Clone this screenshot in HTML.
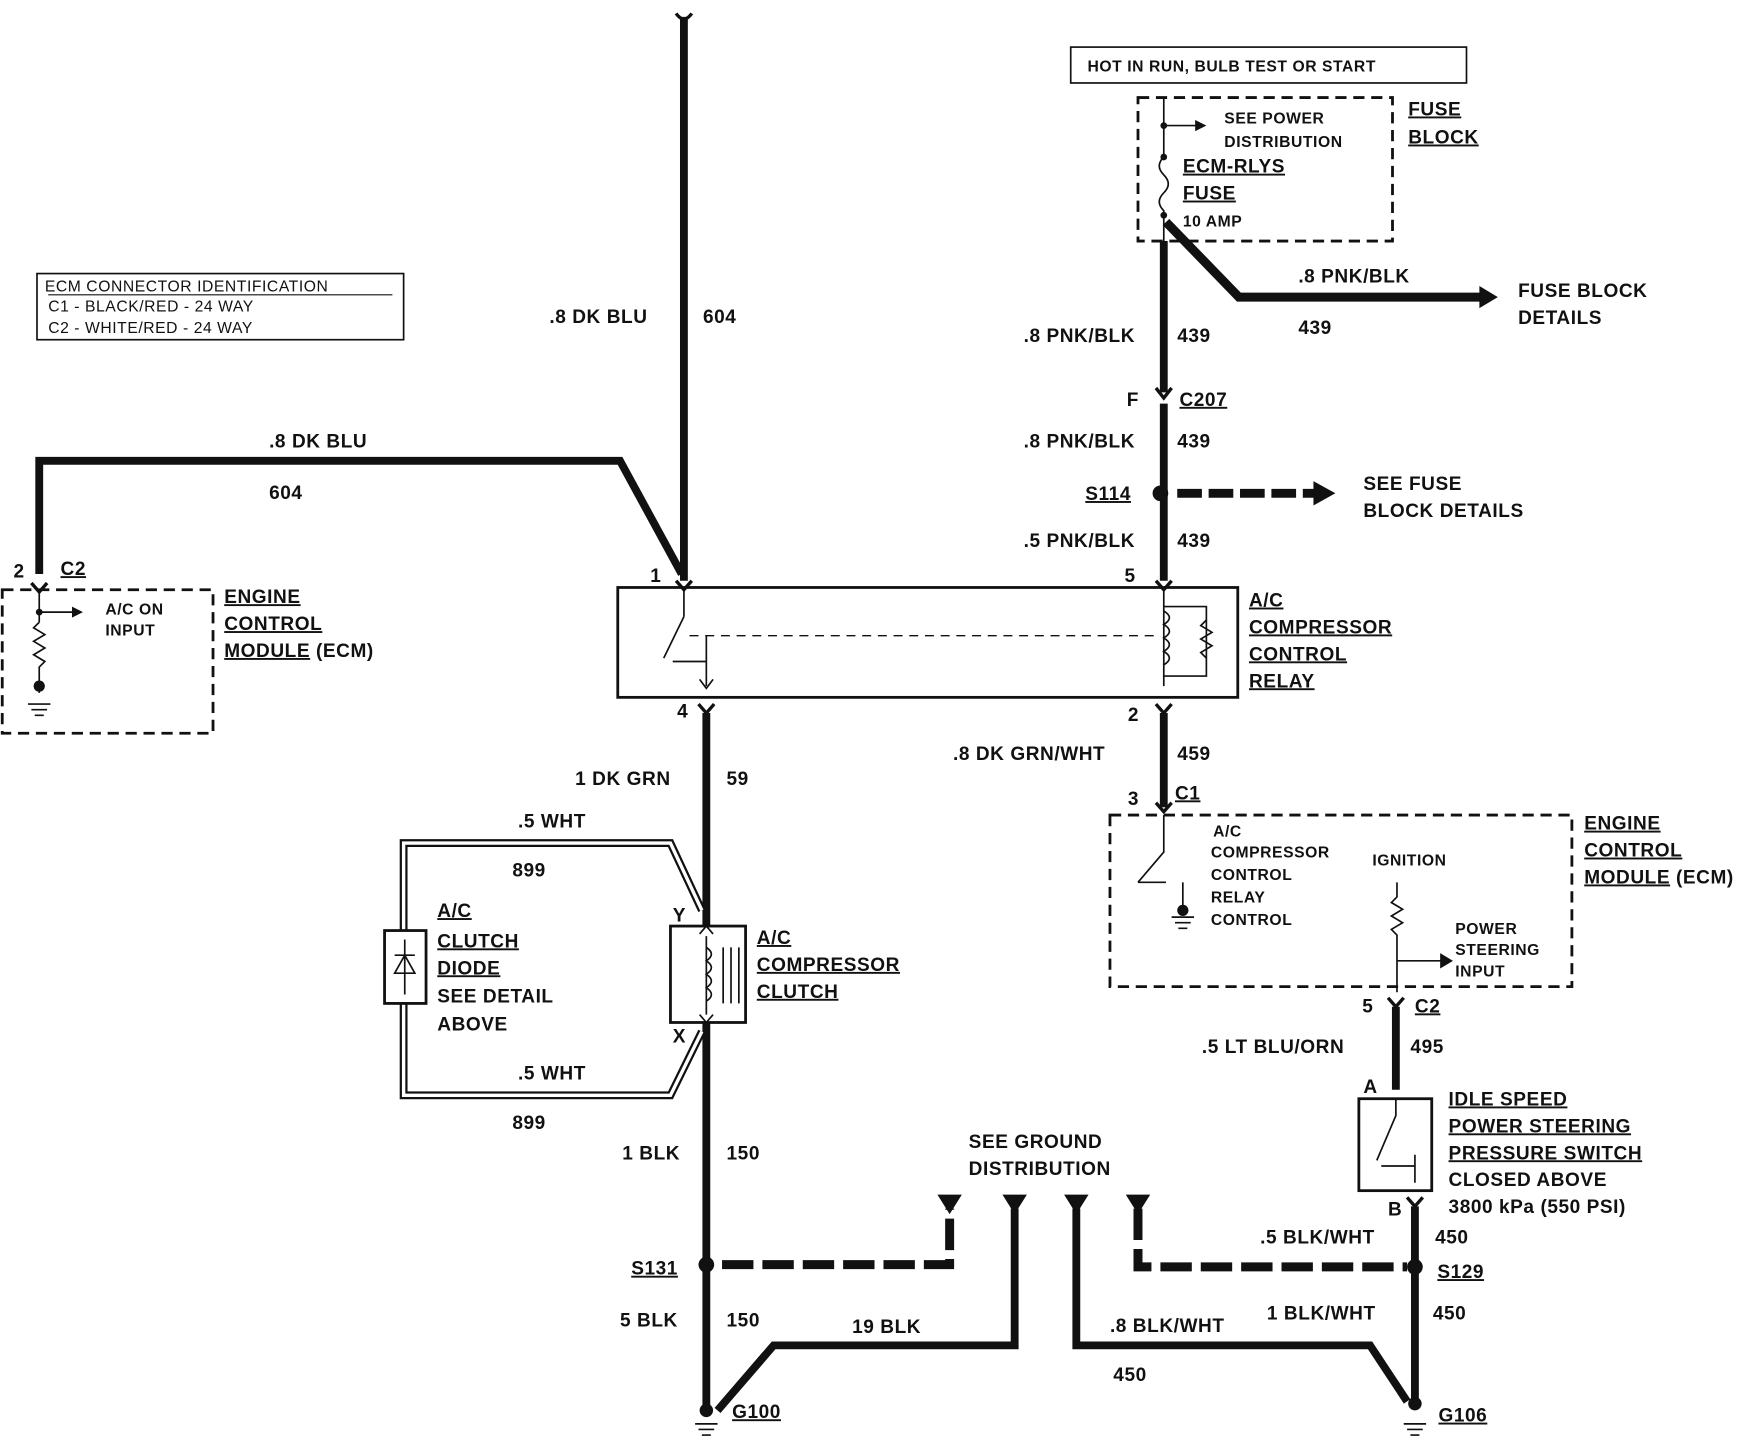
<!DOCTYPE html>
<html><head><meta charset="utf-8"><style>
html,body{margin:0;padding:0;background:#fff;}
svg{display:block;}
text{font-family:"Liberation Sans",Arial,sans-serif;font-weight:bold;font-size:17px;fill:#111;letter-spacing:0.5px;}
.s{font-size:14px;font-weight:normal;}
.u{text-decoration:underline;}
</style></head><body>
<svg width="1758" height="1440" viewBox="0 0 1568 1284.4" preserveAspectRatio="none" xmlns="http://www.w3.org/2000/svg">
<defs>
<marker id="ar" markerWidth="10" markerHeight="10" refX="8" refY="5" orient="auto" markerUnits="userSpaceOnUse"><path d="M0,0 L10,5 L0,10z" fill="#111"/></marker>
</defs>
<g stroke="#111" fill="none">
<path d="M610,15 V518" stroke-width="7"/>
<path d="M603,12 Q610,22 617,12" stroke-width="3"/>
<path d="M35,512 V411 H553 L608,512" stroke-width="7"/>
<rect x="33" y="244" width="327" height="59" stroke-width="1.5"/>
<line x1="43" y1="263" x2="350" y2="263" stroke-width="1"/>
<rect x="2" y="526" width="188" height="128" stroke-width="2.5" stroke-dasharray="10,6"/>
<path d="M28,520 L35,528 L42,520" stroke-width="3"/>
<path d="M35,528 V555 M35,555 l-5,5 l10,6 l-10,6 l10,6 l-10,6 l10,6 l-5,5 V618" stroke-width="1.5"/>
<path d="M35,546 H72" stroke-width="1.5" marker-end="url(#ar)"/>
<path d="M25,628 H45 M28,633 H42 M31,638 H39" stroke-width="1.5"/>
<rect x="551" y="524" width="553" height="98" stroke-width="2.5"/>
<path d="M603,518 L610,526 L617,518" stroke-width="3"/>
<path d="M610,526 V550 M610,550 L592,587 M630,567 V612 M600,590 H630" stroke-width="1.5"/>
<path d="M624,606 L630,614 L636,606" stroke-width="1.5"/>
<path d="M615,567 H1030" stroke-width="1.2" stroke-dasharray="8,6"/>
<path d="M1031,518 L1038,526 L1045,518" stroke-width="3"/>
<path d="M1038,526 V612 M1038,541 H1076 V603 H1038 M1076,553 l-5,5 l10,6 l-10,6 l10,6 l-10,6 l5,5" stroke-width="1.5"/>
<path d="M1038,545 q10,6 0,12 q10,6 0,12 q10,6 0,12 q10,6 0,12" stroke-width="1.5"/>
<path d="M1038,215 V350" stroke-width="7"/>
<path d="M1031,346 L1038,355 L1045,346" stroke-width="3"/>
<path d="M1038,360 V518" stroke-width="7"/>
<path d="M1040,198 L1105,265 H1320" stroke-width="8"/>
<path d="M1320,256 L1335,265 L1320,274z" fill="#111"/>
<rect x="955" y="42" width="353" height="32" stroke-width="1.5"/>
<rect x="1015" y="87" width="227" height="128" stroke-width="2.5" stroke-dasharray="10,6"/>
<path d="M1038,87 V140 M1038,140 q-8,8 0,16 q8,8 0,16 q-8,8 0,16 V215" stroke-width="1.5"/>
<path d="M1038,112 H1074" stroke-width="1.5" marker-end="url(#ar)"/>
<path d="M1050,440 H1175" stroke-width="8" stroke-dasharray="22,6"/>
<path d="M1172,430 L1190,440 L1172,450z" fill="#111"/>
<path d="M623,628 L630,636 L637,628" stroke-width="3"/>
<path d="M630,636 V826 M630,912 V1262" stroke-width="7"/>
<rect x="598" y="826" width="67" height="86" stroke-width="2.5"/>
<path d="M630,835 V905 M630,845 q9,6 0,12 q9,6 0,12 q9,6 0,12 q9,6 0,12 M645,845 V895 M652,845 V895 M659,845 V895" stroke-width="1.5"/>
<path d="M624,833 L630,826 L636,833 M624,905 L630,912 L636,905" stroke-width="1.5"/>
<path d="M626,812 L598,752 H360 V977 H598 L626,920" stroke-width="7"/>
<path d="M626,812 L598,752 H360 V977 H598 L626,920" stroke-width="3" stroke="#fff"/>
<rect x="343" y="830" width="37" height="65" stroke-width="2.5" fill="#fff"/>
<path d="M361,838 V887 M352,868 H370 L361,852z M352,852 H370" stroke-width="1.5"/>
<path d="M644,1128 H847 V1078" stroke-width="8" stroke-dasharray="28,8"/>
<path d="M640,1258 L690,1200 H905 V1078" stroke-width="7"/>
<path d="M960,1078 V1200 H1222 L1255,1250" stroke-width="7"/>
<path d="M1015,1078 V1130 H1255" stroke-width="8" stroke-dasharray="28,8"/>
<path d="M837,1066 H857 L847,1082z M895,1066 H915 L905,1082z M950,1066 H970 L960,1082z M1005,1066 H1025 L1015,1082z" fill="#111"/>
<path d="M1031,628 L1038,636 L1045,628" stroke-width="3"/>
<path d="M1038,636 V720" stroke-width="7"/>
<path d="M1031,716 L1038,724 L1045,716" stroke-width="3"/>
<rect x="990" y="727" width="412" height="153" stroke-width="2.5" stroke-dasharray="10,6"/>
<path d="M1038,727 V760 L1015,787 M1015,787 H1040 M1055,787 V815" stroke-width="1.5"/>
<path d="M1045,818 H1065 M1048,823 H1062 M1051,828 H1059 M1246,787 V800 l-5,5 l10,6 l-10,6 l10,6 l-10,6 l5,5 V885 M1246,857 H1285" stroke-width="1.5"/>
<path d="M1285,851 L1295,857 L1285,863z" fill="#111"/>
<path d="M1238,890 L1245,898 L1252,890" stroke-width="3"/>
<path d="M1245,898 V972" stroke-width="7"/>
<rect x="1212" y="980" width="65" height="82" stroke-width="2.5"/>
<path d="M1245,980 V995 L1228,1035 M1232,1040 H1262 M1262,1030 V1055" stroke-width="1.5"/>
<path d="M1255,1068 L1262,1076 L1269,1068" stroke-width="3"/>
<path d="M1262,1076 V1250" stroke-width="7"/>
<path d="M620,1270 H640 M623,1275 H637 M626,1280 H634 M1252,1270 H1272 M1255,1275 H1269 M1258,1280 H1266" stroke-width="1.5"/>
</g>
<g fill="#111">
<circle cx="1035" cy="440" r="7"/><circle cx="630" cy="1128" r="7"/><circle cx="1262" cy="1130" r="7"/>
<circle cx="630" cy="1258" r="6"/><circle cx="1262" cy="1252" r="6"/>
<circle cx="35" cy="546" r="3"/><circle cx="35" cy="612" r="5"/><circle cx="1055" cy="812" r="5"/>
<circle cx="1038" cy="112" r="3"/><circle cx="1038" cy="140" r="3"/><circle cx="1038" cy="192" r="3"/>
</g>
<text x="970" y="64" class="s" style="font-weight:bold">HOT IN RUN, BULB TEST OR START</text>
<text x="1092" y="110" class="s" style="font-weight:bold">SEE POWER</text>
<text x="1092" y="131" class="s" style="font-weight:bold">DISTRIBUTION</text>
<text x="1055" y="154" class="u">ECM-RLYS</text><text x="1055" y="178" class="u">FUSE</text>
<text x="1055" y="202" class="s" style="font-weight:bold">10 AMP</text>
<text x="1256" y="103" class="u">FUSE</text><text x="1256" y="128" class="u">BLOCK</text>
<text x="1158" y="252">.8 PNK/BLK</text><text x="1158" y="298">439</text>
<text x="1354" y="265">FUSE BLOCK</text><text x="1354" y="289">DETAILS</text>
<text x="913" y="305">.8 PNK/BLK</text><text x="1050" y="305">439</text>
<text x="1005" y="362">F</text><text x="1052" y="362" class="u">C207</text>
<text x="913" y="399">.8 PNK/BLK</text><text x="1050" y="399">439</text>
<text x="968" y="446" class="u">S114</text>
<text x="1216" y="437">SEE FUSE</text><text x="1216" y="461">BLOCK DETAILS</text>
<text x="913" y="488">.5 PNK/BLK</text><text x="1050" y="488">439</text>
<text x="1003" y="519">5</text><text x="580" y="519">1</text>
<text x="1114" y="541" class="u">A/C</text><text x="1114" y="565" class="u">COMPRESSOR</text><text x="1114" y="589" class="u">CONTROL</text><text x="1114" y="613" class="u">RELAY</text>
<text x="40" y="260" class="s">ECM CONNECTOR IDENTIFICATION</text>
<text x="43" y="278" class="s">C1 - BLACK/RED - 24 WAY</text>
<text x="43" y="297" class="s">C2 - WHITE/RED - 24 WAY</text>
<text x="490" y="288">.8 DK BLU</text><text x="627" y="288">604</text>
<text x="240" y="399">.8 DK BLU</text><text x="240" y="445">604</text>
<text x="12" y="515">2</text><text x="54" y="513" class="u">C2</text>
<text x="94" y="548" class="s" style="font-weight:bold">A/C ON</text><text x="94" y="567" class="s" style="font-weight:bold">INPUT</text>
<text x="200" y="538" class="u">ENGINE</text><text x="200" y="562" class="u">CONTROL</text><text x="200" y="586"><tspan class="u">MODULE</tspan> (ECM)</text>
<text x="604" y="640">4</text><text x="1006" y="643">2</text>
<text x="513" y="700">1 DK GRN</text><text x="648" y="700">59</text>
<text x="850" y="678">.8 DK GRN/WHT</text><text x="1050" y="678">459</text>
<text x="1006" y="718">3</text><text x="1048" y="713" class="u">C1</text>
<text x="462" y="738">.5 WHT</text><text x="457" y="782">899</text>
<text x="600" y="822">Y</text><text x="600" y="930">X</text>
<text x="390" y="818" class="u">A/C</text><text x="390" y="845" class="u">CLUTCH</text><text x="390" y="869" class="u">DIODE</text><text x="390" y="894">SEE DETAIL</text><text x="390" y="919">ABOVE</text>
<text x="675" y="842" class="u">A/C</text><text x="675" y="866" class="u">COMPRESSOR</text><text x="675" y="890" class="u">CLUTCH</text>
<text x="462" y="963">.5 WHT</text><text x="457" y="1007">899</text>
<text x="1082" y="746" class="s" style="font-weight:bold">A/C</text>
<text x="1080" y="765" class="s" style="font-weight:bold">COMPRESSOR</text>
<text x="1080" y="785" class="s" style="font-weight:bold">CONTROL</text>
<text x="1080" y="805" class="s" style="font-weight:bold">RELAY</text>
<text x="1080" y="825" class="s" style="font-weight:bold">CONTROL</text>
<text x="1224" y="772" class="s" style="font-weight:bold">IGNITION</text>
<text x="1298" y="833" class="s" style="font-weight:bold">POWER</text>
<text x="1298" y="852" class="s" style="font-weight:bold">STEERING</text>
<text x="1298" y="871" class="s" style="font-weight:bold">INPUT</text>
<text x="1413" y="740" class="u">ENGINE</text><text x="1413" y="764" class="u">CONTROL</text><text x="1413" y="788"><tspan class="u">MODULE</tspan> (ECM)</text>
<text x="1215" y="903">5</text><text x="1262" y="903" class="u">C2</text>
<text x="1072" y="939">.5 LT BLU/ORN</text><text x="1258" y="939">495</text>
<text x="1216" y="975">A</text>
<text x="1292" y="986" class="u">IDLE SPEED</text><text x="1292" y="1010" class="u">POWER STEERING</text><text x="1292" y="1034" class="u">PRESSURE SWITCH</text><text x="1292" y="1058">CLOSED ABOVE</text><text x="1292" y="1082">3800 kPa (550 PSI)</text>
<text x="1238" y="1084">B</text>
<text x="555" y="1034">1 BLK</text><text x="648" y="1034">150</text>
<text x="864" y="1024">SEE GROUND</text><text x="864" y="1048">DISTRIBUTION</text>
<text x="1124" y="1109">.5 BLK/WHT</text><text x="1280" y="1109">450</text>
<text x="563" y="1137" class="u">S131</text><text x="1282" y="1140" class="u">S129</text>
<text x="553" y="1183">5 BLK</text><text x="648" y="1183">150</text>
<text x="760" y="1189">19 BLK</text>
<text x="990" y="1188">.8 BLK/WHT</text><text x="1130" y="1177">1 BLK/WHT</text><text x="1278" y="1177">450</text>
<text x="993" y="1232">450</text>
<text x="653" y="1265" class="u">G100</text><text x="1283" y="1268" class="u">G106</text>
</svg>
</body></html>
